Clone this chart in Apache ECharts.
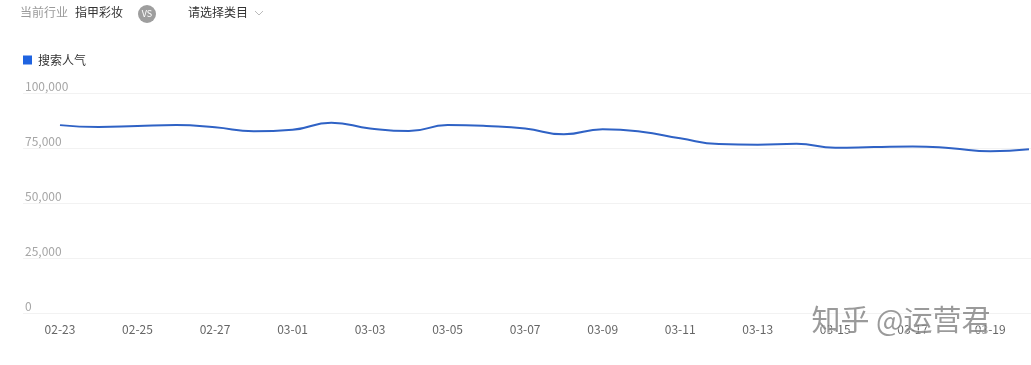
<!DOCTYPE html>
<html>
<head>
<meta charset="utf-8">
<script src="https://cdn.jsdelivr.net/npm/echarts@6/dist/echarts.min.js"></script>
<style>
html,body{margin:0;padding:0;background:#fff;}
#chart{width:1031px;height:365px;}
</style>
</head>
<body>
<div id="chart"></div>
<script>
var categories = ['02-23','02-24','02-25','02-26','02-27','02-28','03-01','03-02','03-03','03-04','03-05','03-06','03-07','03-08','03-09','03-10','03-11','03-12','03-13','03-14','03-15','03-16','03-17','03-18','03-19','03-20'];
var searchPopularity = [85400,84500,85000,85400,84400,82600,83300,86500,83900,82700,85400,85000,83900,81200,83500,82400,79400,76800,76500,76900,75100,75400,75700,74900,73500,74400];
var yTicks = [0, 25000, 50000, 75000, 100000];
var seriesName = '搜索人气';
var FONT = '"Noto Sans CJK SC", "Noto Sans", sans-serif';

var chart = echarts.init(document.getElementById('chart'), null, {renderer: 'canvas'});
var option = {
  backgroundColor: '#fff',
  animation: false,
  textStyle: {fontFamily: FONT},
  legend: {
    left: 23, top: 54, padding: 0,
    icon: 'rect', itemWidth: 9, itemHeight: 9, itemGap: 10,
    textStyle: {color: '#333', fontSize: 12, fontFamily: FONT, padding: [0, 0, 0, 1]},
    data: [seriesName]
  },
  grid: [
    {left: 23, right: 0, top: 93, bottom: 52},
    {left: 60, right: 2, top: 93, bottom: 52}
  ],
  xAxis: [
    {gridIndex: 0, type: 'category', data: categories, show: false},
    {
      gridIndex: 1, type: 'category', data: categories, boundaryGap: false,
      axisLine: {show: false}, axisTick: {show: false},
      axisLabel: {interval: 1, color: '#666', fontSize: 12, margin: 10, fontFamily: FONT}
    }
  ],
  yAxis: [
    {
      gridIndex: 0, type: 'value', min: yTicks[0], max: yTicks[yTicks.length - 1], interval: 25000,
      axisLine: {show: false}, axisTick: {show: false},
      splitLine: {show: true, lineStyle: {color: '#f2f2f2', width: 1}},
      axisLabel: {
        inside: true, margin: 2, color: '#a6a6a6', fontSize: 12, fontFamily: FONT,
        verticalAlign: 'bottom', padding: [0, 0, 1, 0],
        formatter: function (v) { return v.toLocaleString('en-US'); }
      }
    },
    {
      gridIndex: 1, type: 'value', min: yTicks[0], max: yTicks[yTicks.length - 1], interval: 25000,
      show: false, splitLine: {show: false}
    }
  ],
  series: [{
    name: seriesName, type: 'line', xAxisIndex: 1, yAxisIndex: 1,
    data: searchPopularity, smooth: true, showSymbol: false,
    itemStyle: {color: '#1f63e0'},
    lineStyle: {color: '#2f62c5', width: 2}
  }],
  graphic: [
    {type: 'text', left: 20, top: 6, style: {text: '当前行业', fill: '#9a9a9a', fontSize: 12, fontFamily: FONT}},
    {type: 'text', left: 75, top: 6, style: {text: '指甲彩妆', fill: '#333', fontSize: 12, fontFamily: FONT}},
    {type: 'circle', shape: {cx: 147, cy: 14, r: 9}, style: {fill: '#9e9e9e'}},
    {type: 'text', x: 147, y: 14, style: {text: 'VS', fill: '#fff', fontSize: 9, fontFamily: FONT, align: 'center', verticalAlign: 'middle'}},
    {type: 'text', left: 188, top: 6, style: {text: '请选择类目', fill: '#333', fontSize: 12, fontFamily: FONT}},
    {type: 'polyline', shape: {points: [[255, 11], [259, 15], [263, 11]]}, style: {stroke: '#bbb', lineWidth: 1, fill: null}},
    {type: 'text', left: 811, top: 305, z: 100, style: {text: '知乎 @运营君', fill: 'rgba(120,120,120,0.75)', stroke: 'rgba(255,255,255,0.7)', lineWidth: 1, fontSize: 29, fontFamily: FONT}}
  ]
};
chart.setOption(option);
</script>
</body>
</html>
